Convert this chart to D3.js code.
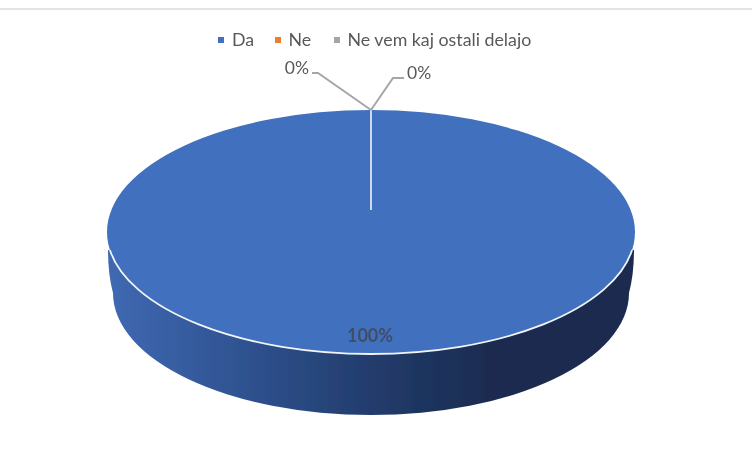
<!DOCTYPE html>
<html lang="sl">
<head>
  <meta charset="UTF-8">
  <title>Pie</title>
  <style>
    body { margin: 0; background: #fff; }
    text { font-family: Lato, "Open Sans", sans-serif; fill: #595959; }
  </style>
  <script src="https://d3js.org/d3.v7.min.js"></script>
</head>
<body>
<svg id="chart" width="752" height="464"></svg>
<script>
var categories = ['Da', 'Ne', 'Ne vem kaj ostali delajo'];
var values = [100, 0, 0];
var colors = ['#4170be', '#ed7d31', '#a5a5a5'];

var svg = d3.select('#chart');
var total = d3.sum(values);
var fmt = function(v) { return d3.format('.0%')(v / total); };

var cx = 371, cy = 232, rx = 264, ry = 122;
var depth = 61, bottomRx = 258;
var apexY = 210;   // the pie's centre sits above the ellipse centre because of the perspective

var defs = svg.append('defs');
var grad = defs.append('linearGradient')
  .attr('id', 'side')
  .attr('gradientUnits', 'userSpaceOnUse')
  .attr('x1', cx - rx).attr('x2', cx + rx)
  .attr('y1', 0).attr('y2', 0);
[[0, '#4069b3'], [0.25, '#2f5391'], [0.5, '#223c6c'], [0.72, '#1a2c50'], [1, '#1a2c50']].forEach(function(s) {
  grad.append('stop').attr('offset', s[0]).attr('stop-color', s[1]);
});
defs.append('filter').attr('id', 'soft')
  .append('feGaussianBlur').attr('stdDeviation', 0.6);

var root = svg.append('g').attr('filter', 'url(#soft)');

// top rule of the screenshot
root.append('rect').attr('x', 0).attr('y', 8).attr('width', 752).attr('height', 2).attr('fill', '#e4e4e4');

// side wall
var sideY = cy + 18;
root.append('path')
  .attr('d', 'M' + (cx - rx + 1) + ',' + sideY +
    'Q' + (cx - bottomRx - 5) + ',' + (sideY + 24) + ' ' + (cx - bottomRx) + ',' + (cy + depth) +
    'A' + bottomRx + ',' + ry + ' 0 0 0 ' + (cx + bottomRx) + ',' + (cy + depth) +
    'Q' + (cx + bottomRx + 5) + ',' + (sideY + 24) + ' ' + (cx + rx - 1) + ',' + sideY +
    'Z')
  .attr('fill', 'url(#side)');

// top face, drawn with the pie layout on a flattened circle
var pie = d3.pie().sort(null).value(function(d) { return d; })(values);
var arc = d3.arc().innerRadius(0).outerRadius(rx);
var face = root.append('g')
  .attr('transform', 'translate(' + cx + ',' + cy + ') scale(1,' + (ry / rx) + ')');
face.selectAll('path')
  .data(pie)
  .enter()
  .append('path')
  .attr('d', arc)
  .attr('fill', function(d, i) { return colors[i]; });

// white rim only along the front edge
var rimAngle = 8.5 * Math.PI / 180;
face.append('path')
  .attr('d', d3.arc().innerRadius(rx).outerRadius(rx)({
    startAngle: Math.PI / 2 + rimAngle,
    endAngle: 3 * Math.PI / 2 - rimAngle
  }))
  .attr('fill', 'none')
  .attr('stroke', '#f2f4f8')
  .attr('stroke-width', 1.8)
  .attr('vector-effect', 'non-scaling-stroke');

// slice border from the rim to the centre of the pie
root.append('line')
  .attr('x1', cx).attr('x2', cx)
  .attr('y1', cy - ry).attr('y2', apexY)
  .attr('stroke', '#dfe6f3').attr('stroke-width', 1.8);

// leader lines of the two empty slices
var leaders = [
  { i: 1, pts: [[cx, cy - ry], [318, 73], [312, 73]], x: 309, y: 74, anchor: 'end' },
  { i: 2, pts: [[cx, cy - ry], [393, 78], [404, 78]], x: 407, y: 79, anchor: 'start' }
];
leaders.forEach(function(l) {
  root.append('path')
    .attr('d', d3.line()(l.pts))
    .attr('fill', 'none')
    .attr('stroke', '#a6a6a6')
    .attr('stroke-width', 2);
  root.append('text')
    .attr('x', l.x).attr('y', l.y)
    .attr('text-anchor', l.anchor)
    .attr('font-size', 17.5)
    .text(fmt(values[l.i]));
});

root.append('text')
  .attr('x', 370).attr('y', 342)
  .attr('text-anchor', 'middle')
  .attr('font-size', 18)
  .attr('font-weight', 'bold')
  .style('fill', '#404d66')
  .text(fmt(values[0]));

// legend
var legendX = [218, 275, 334];
var legend = root.selectAll('.legend')
  .data(categories)
  .enter()
  .append('g')
  .attr('class', 'legend')
  .attr('transform', function(d, i) { return 'translate(' + legendX[i] + ',0)'; });
legend.append('rect')
  .attr('y', 37).attr('width', 6).attr('height', 6)
  .attr('fill', function(d, i) { return colors[i]; });
legend.append('text')
  .attr('x', function(d, i) { return i === 0 ? 14 : 13.5; })
  .attr('y', 45.5)
  .attr('font-size', 17.8)
  .text(function(d) { return d; });
</script>
</body>
</html>
